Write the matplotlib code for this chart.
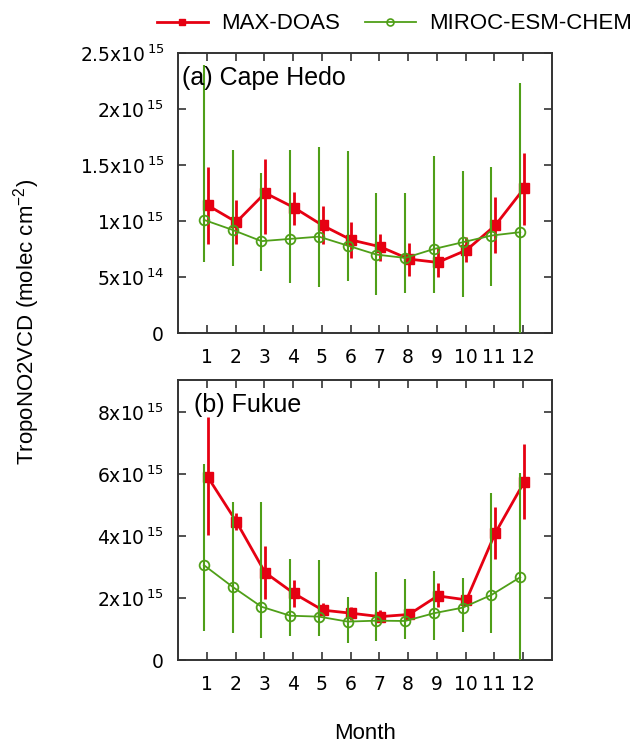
import matplotlib
matplotlib.use("Agg")
import matplotlib.pyplot as plt
from matplotlib.lines import Line2D
import numpy as np

# ----------------------------------------------------------------
# data
# ----------------------------------------------------------------
months = np.arange(1, 13)

# (a) Cape Hedo, units of 1e15 molec cm-2
hedo_obs = [1.14, 0.99, 1.25, 1.12, 0.96, 0.83, 0.77, 0.66, 0.63, 0.74, 0.96, 1.29]
hedo_obs_lo = [0.79, 0.79, 0.88, 0.96, 0.79, 0.67, 0.64, 0.51, 0.50, 0.63, 0.71, 0.96]
hedo_obs_hi = [1.48, 1.19, 1.55, 1.26, 1.13, 0.99, 0.88, 0.80, 0.76, 0.86, 1.21, 1.61]
hedo_mod = [1.01, 0.92, 0.82, 0.84, 0.86, 0.78, 0.70, 0.67, 0.75, 0.81, 0.87, 0.90]
hedo_mod_lo = [0.63, 0.60, 0.55, 0.45, 0.41, 0.46, 0.34, 0.36, 0.36, 0.32, 0.42, -0.40]
hedo_mod_hi = [2.39, 1.63, 1.43, 1.63, 1.66, 1.62, 1.25, 1.25, 1.58, 1.45, 1.48, 2.23]

# (b) Fukue
fukue_obs = [5.91, 4.46, 2.82, 2.15, 1.61, 1.51, 1.40, 1.47, 2.07, 1.94, 4.09, 5.73]
fukue_obs_lo = [4.03, 4.19, 1.97, 1.71, 1.45, 1.29, 1.23, 1.35, 1.71, 1.77, 3.26, 4.55]
fukue_obs_hi = [7.84, 4.74, 3.68, 2.58, 1.84, 1.71, 1.61, 1.60, 2.48, 2.10, 4.94, 6.97]
fukue_mod = [3.06, 2.36, 1.72, 1.43, 1.40, 1.24, 1.27, 1.26, 1.51, 1.69, 2.10, 2.67]
fukue_mod_lo = [0.94, 0.88, 0.71, 0.77, 0.77, 0.56, 0.62, 0.67, 0.65, 0.91, 0.88, -1.0]
fukue_mod_hi = [6.32, 5.10, 5.11, 3.26, 3.23, 2.04, 2.85, 2.60, 2.87, 2.63, 5.38, 6.02]

hedo_ticks = [0, 0.5, 1.0, 1.5, 2.0, 2.5]
hedo_ticklabels = ['0', r'5x10$^{\,14}$', r'1x10$^{\,15}$', r'1.5x10$^{\,15}$',
                   r'2x10$^{\,15}$', r'2.5x10$^{\,15}$']
fukue_ticks = [0, 2, 4, 6, 8]
fukue_ticklabels = ['0', r'2x10$^{\,15}$', r'4x10$^{\,15}$', r'6x10$^{\,15}$',
                    r'8x10$^{\,15}$']

# ----------------------------------------------------------------
# style
# ----------------------------------------------------------------
RED = '#e60012'
GREEN = '#4f9f18'
LABEL_FONT = 'Liberation Sans'
TICK_FONT = 'DejaVu Sans'
plt.rcParams['mathtext.fontset'] = 'dejavusans'

fig = plt.figure(figsize=(6.38, 7.45), dpi=100)
ax_a = fig.add_axes([0.279, 0.553, 0.586, 0.376])
ax_b = fig.add_axes([0.279, 0.114, 0.586, 0.376])


def draw_panel(ax, obs, obs_lo, obs_hi, mod, mod_lo, mod_hi, ylim, ticks, ticklabels, title, tx):
    obs = np.array(obs)
    mod = np.array(mod)
    x_obs = months + 0.03
    x_mod = months - 0.1
    ax.errorbar(x_obs, obs, yerr=[obs - np.array(obs_lo), np.array(obs_hi) - obs],
                color=RED, lw=2, elinewidth=2, capsize=0, marker='s', ms=7.5,
                mec=RED, mfc=RED, zorder=2)
    ax.errorbar(x_mod, mod, yerr=[mod - np.array(mod_lo), np.array(mod_hi) - mod],
                color=GREEN, lw=1.3, elinewidth=1.5, capsize=0, marker='o', ms=7,
                mec=GREEN, mfc='none', mew=1.3, zorder=3)
    ax.set_xlim(0, 13)
    ax.set_ylim(*ylim)
    ax.set_xticks(months)
    ax.set_xticklabels([str(m) for m in months], fontsize=13.5, family=TICK_FONT)
    ax.set_yticks(ticks)
    ax.set_yticklabels(ticklabels, fontsize=13.5, family=TICK_FONT)
    ax.tick_params(axis='both', direction='in', length=6, width=1.2, color='#333333',
                   top=True, right=True)
    ax.tick_params(axis='x', pad=11)
    ax.tick_params(axis='y', pad=10)
    for s in ax.spines.values():
        s.set_linewidth(1.4)
        s.set_color('#333333')
    ax.text(tx, 0.912, title, transform=ax.transAxes, va='center', ha='left',
            fontsize=18, family=LABEL_FONT)


draw_panel(ax_a, hedo_obs, hedo_obs_lo, hedo_obs_hi, hedo_mod, hedo_mod_lo, hedo_mod_hi,
           (0, 2.5), hedo_ticks, hedo_ticklabels, '(a) Cape Hedo', 0.01)
draw_panel(ax_b, fukue_obs, fukue_obs_lo, fukue_obs_hi, fukue_mod, fukue_mod_lo, fukue_mod_hi,
           (0, 9.03), fukue_ticks, fukue_ticklabels, '(b) Fukue', 0.043)

# legend on top
handles = [
    Line2D([], [], color=RED, lw=2, marker='s', ms=5, mec=RED, mfc=RED),
    Line2D([], [], color=GREEN, lw=1.3, marker='o', ms=5, mec=GREEN, mfc='none', mew=1.2),
]
fig.legend(handles, ['MAX-DOAS', 'MIROC-ESM-CHEM'], loc='center', ncol=2,
           bbox_to_anchor=(0.618, 0.968), frameon=False, handlelength=2.3,
           handletextpad=0.6, columnspacing=1.1, prop={'family': LABEL_FONT, 'size': 16})

fig.text(27 / 638, 0.568, r'TropoNO2VCD (molec cm$^{\mathregular{-2}}$)', rotation=90,
         ha='center', va='center', fontsize=16, family=LABEL_FONT)
fig.text(0.572, 0.016, 'Month', ha='center', va='center', fontsize=16, family=LABEL_FONT)

fig.savefig('out.png', dpi=100)
